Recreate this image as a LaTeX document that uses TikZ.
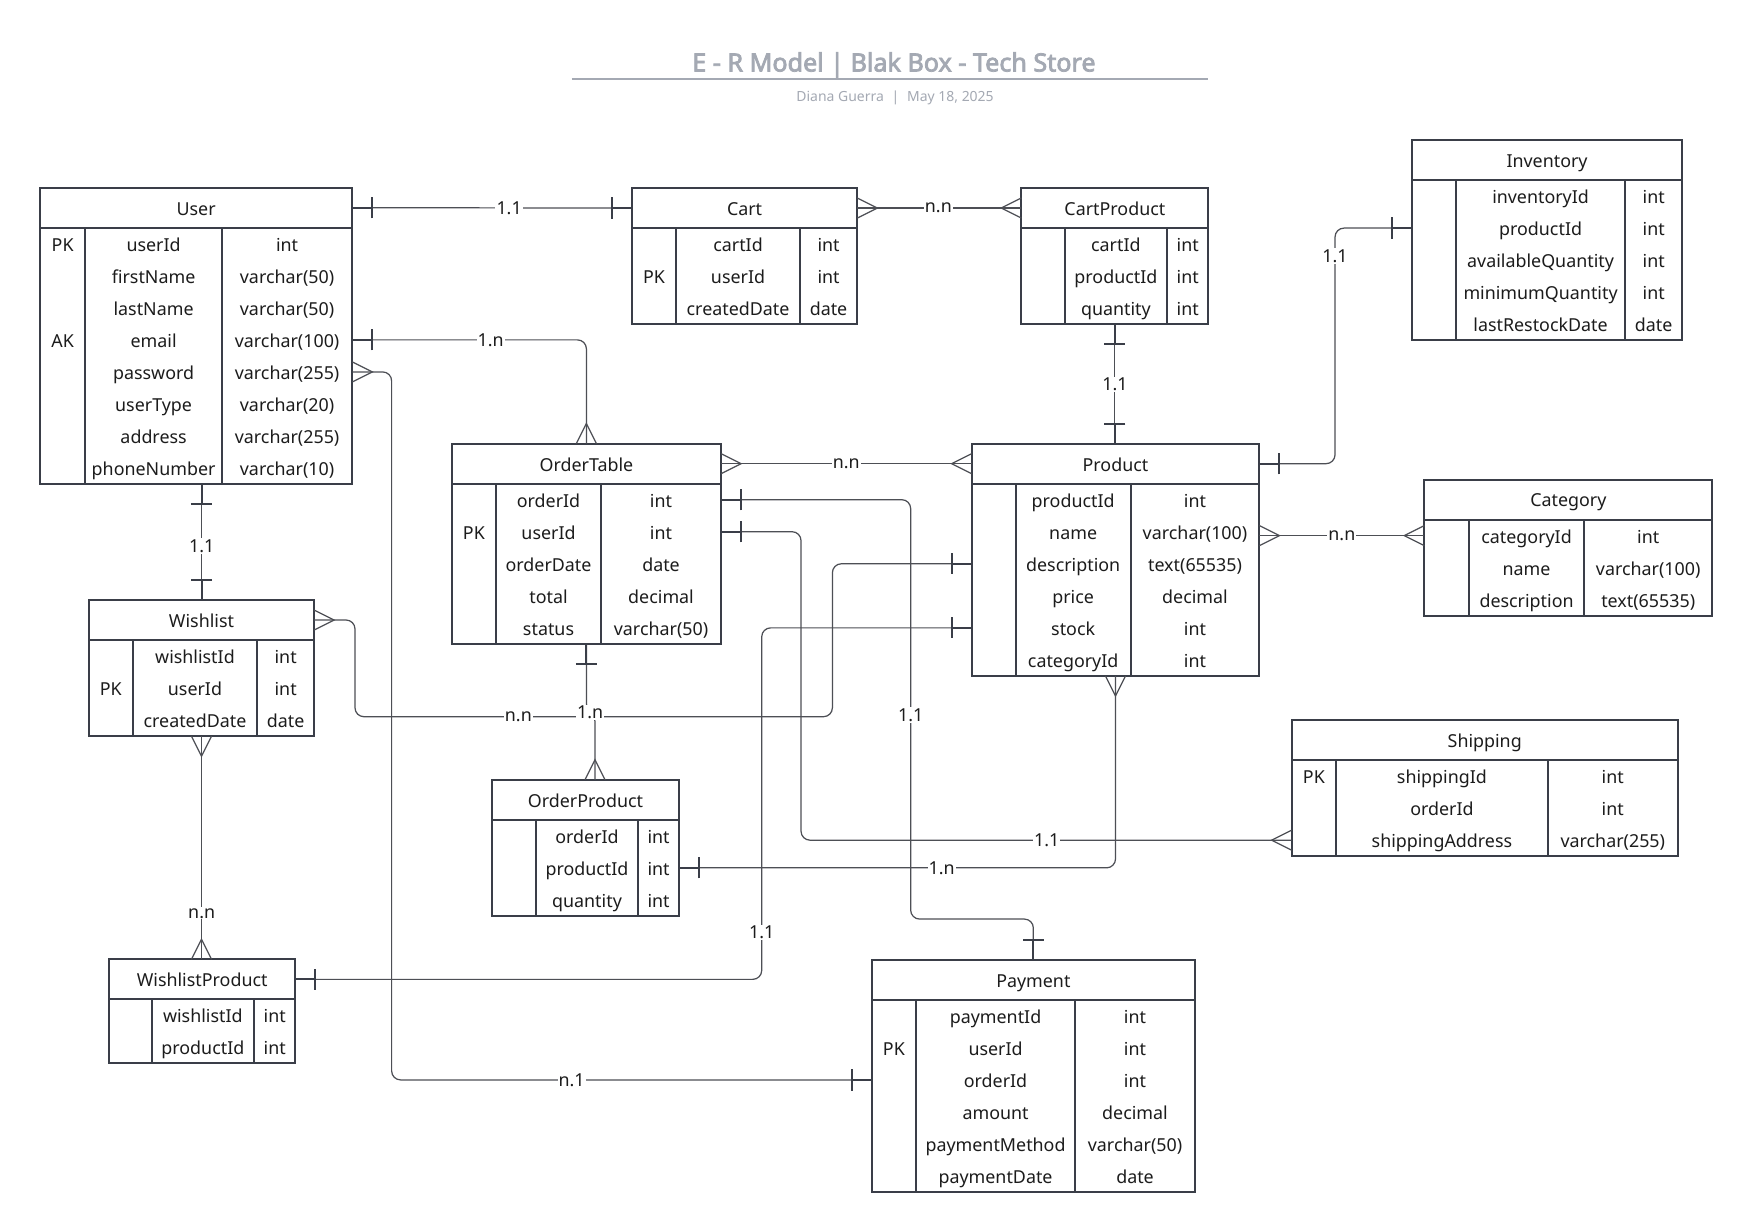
\documentclass[tikz,border=0pt]{standalone}
\usepackage{fontspec}
\setmainfont{Noto Sans}
\newfontfamily\titlefont{Noto Sans}[AutoFakeBold=3]
\usetikzlibrary{calc}
\definecolor{linec}{HTML}{3A3E48}
\definecolor{connc}{HTML}{4D4F55}
\definecolor{txtc}{HTML}{1C1C1C}
\definecolor{titlec}{HTML}{A4A9B3}
\newcommand\rowfont{\fontsize{16}{19}\selectfont}
% table: #1 id, #2..#5 column x, #6 top, #7 title, #8 rows, #9 number of rows
\newcommand\ertable[9]{%
  \pgfmathsetmacro\ertw{#5-#2}%
  \pgfmathsetmacro\erth{35.8+#9*28.7}%
  \node[tblbox, minimum width=\ertw pt, minimum height=\erth pt, anchor=north west] (#1) at (#2,#6) {};
  \node[hdrbox, minimum width=\ertw pt, anchor=north west] (#1-h) at (#2,#6) {#7};
  \draw[tblline] (#2,{#6+35.8}) -- (#5,{#6+35.8});
  \draw[tblline] (#3,{#6+35.8}) -- (#3,{#6+\erth});
  \draw[tblline] (#4,{#6+35.8}) -- (#4,{#6+\erth});
  \draw[tblline] (#2,#6) rectangle (#5,{#6+\erth});
  \foreach \ka/\na/\ta [count=\ii] in {#8} {
    \pgfmathsetmacro\ery{#6+35.8+(\ii-0.5)*28.7}
    \node[rowbox, minimum width=\ertw pt] (#1-r\ii) at ({(#2+#5)/2},\ery) {};
    \node[cell] (#1-k\ii) at ({(#2+#3)/2},\ery) {\ka};
    \node[cell] (#1-n\ii) at ({(#3+#4)/2},\ery) {\na};
    \node[cell] (#1-t\ii) at ({(#4+#5)/2},\ery) {\ta};
  }
}
\newcommand\mbar[2]{\draw[mk] (#1) -- ($(#1)+(#2:18)$) ($(#1)+(#2:18)+(#2+90:9.5)$) -- ($(#1)+(#2:18)+(#2-90:9.5)$);}
\newcommand\mcrow[2]{\draw[crow] ($(#1)+(#2+90:9)$) -- ($(#1)+(#2:18)$) -- ($(#1)+(#2-90:9)$);}
\begin{document}
\begin{tikzpicture}[x=1pt,y=-1pt,
  tblbox/.style={draw=none, fill=white, inner sep=0pt, outer sep=0pt},
  hdrbox/.style={inner sep=0pt, outer sep=0pt, minimum height=35.8pt, text height=14pt, text depth=0.8pt, font=\rowfont, text=txtc},
  tblline/.style={draw=linec, line width=1.8pt},
  rowbox/.style={inner sep=0pt, outer sep=0pt, minimum height=28.7pt},
  cell/.style={inner sep=0pt, text height=14pt, text depth=0.8pt, font=\rowfont, text=txtc},
  conn/.style={draw=connc, line width=1.1pt, rounded corners=8pt},
  mk/.style={draw=linec, line width=1.8pt},
  crow/.style={draw=connc, line width=1.1pt},
  lbl/.style={fill=white, inner sep=1pt, font=\rowfont, text=txtc}]
\useasboundingbox (0,0) rectangle (1568,1103);
\fill[white] (0,0) rectangle (1568,1103);
% title
\node[font=\titlefont\bfseries\fontsize{22.5}{27}\selectfont, text=titlec, anchor=base] (title) at (800.5,64) {E - R Model | Blak Box - Tech Store};
\coordinate (ruleL) at (512,71);
\coordinate (ruleR) at (1082,71);
\draw[titlec, line width=2pt] (ruleL) -- (ruleR);
\node[font=\fontsize{12.5}{15}\selectfont, text=titlec, anchor=base] (sub) at (801.5,90.5) {Diana Guerra\hspace{7pt}|\hspace{7pt}May 18, 2025};

% tables
\ertable{user}{35.7}{76.5}{198.6}{315.5}{168.1}{User}{PK/userId/int,{}/firstName/varchar(50),{}/lastName/varchar(50),AK/email/varchar(100),{}/password/varchar(255),{}/userType/varchar(20),{}/address/varchar(255),{}/phoneNumber/varchar(10)}{8}
\ertable{cart}{565.9}{605.5}{716.3}{767.6}{168.4}{Cart}{{}/cartId/int,PK/userId/int,{}/createdDate/date}{3}
\ertable{cartp}{914.6}{953.5}{1045.0}{1082.1}{168.4}{CartProduct}{{}/cartId/int,{}/productId/int,{}/quantity/int}{3}
\ertable{inv}{1264.2}{1303.9}{1455.2}{1506.5}{125.4}{Inventory}{{}/inventoryId/int,{}/productId/int,{}/availableQuantity/int,{}/minimumQuantity/int,{}/lastRestockDate/date}{5}
\ertable{ord}{404.5}{444.2}{538.2}{645.7}{397.3}{OrderTable}{{}/orderId/int,PK/userId/int,{}/orderDate/date,{}/total/decimal,{}/status/varchar(50)}{5}
\ertable{prod}{870.1}{909.5}{1012.5}{1127.7}{397.3}{Product}{{}/productId/int,{}/name/varchar(100),{}/description/text(65535),{}/price/decimal,{}/stock/int,{}/categoryId/int}{6}
\ertable{cat}{1275.5}{1315.5}{1418.5}{1533.4}{429.5}{Category}{{}/categoryId/int,{}/name/varchar(100),{}/description/text(65535)}{3}
\ertable{wish}{79.7}{118.8}{230.4}{281.2}{537.3}{Wishlist}{{}/wishlistId/int,PK/userId/int,{}/createdDate/date}{3}
\ertable{op}{440.3}{480}{571.3}{608.3}{698.3}{OrderProduct}{{}/orderId/int,{}/productId/int,{}/quantity/int}{3}
\ertable{ship}{1156.7}{1196.4}{1386}{1502.4}{644.8}{Shipping}{PK/shippingId/int,{}/orderId/int,{}/shippingAddress/varchar(255)}{3}
\ertable{wp}{97.6}{135.8}{227.5}{264.5}{859.1}{WishlistProduct}{{}/wishlistId/int,{}/productId/int}{2}
\ertable{pay}{780.6}{820.3}{962.7}{1070.1}{859.5}{Payment}{{}/paymentId/int,PK/userId/int,{}/orderId/int,{}/amount/decimal,{}/paymentMethod/varchar(50),{}/paymentDate/date}{6}

% helper coordinates
\coordinate (p3) at (cartp.south |- prod.north);
\coordinate (c4) at (1195.5,300);
\coordinate (c6) at (350.7,600);
\coordinate (p7) at (wish.north |- user.south);
\coordinate (p8) at (wish.south |- wp.north);
\coordinate (c9a) at (317.9,641.8);
\coordinate (c9b) at (745.4,641.8);
\coordinate (c11) at (815.5,823);
\coordinate (c12) at (717.3,600);
\coordinate (c13) at (532.8,638);
\coordinate (p13) at (c13 |- op.north);
\coordinate (c15) at (682.1,700);
\coordinate (p16) at (cat-r1.west -| prod.east);

% connectors
\draw[conn] (user-h.east) -- (cart-h.west);
\draw[conn] (cart-h.east) -- (cartp-h.west);
\draw[conn] (cartp.south) -- (p3);
\draw[conn] (prod-h.east) -| (c4) |- (inv-r2.west);
\draw[conn] (user-r4.east) -| (ord.north);
\draw[conn] (user-r5.east) -| (c6) |- (pay-r3.west);
\draw[conn] (p7) -- (wish.north);
\draw[conn] (wish.south) -- (p8);
\draw[conn] (wish-h.east) -| (c9a) -- (c9b) |- (prod-r3.west);
\draw[conn] (ord-h.east) -- (prod-h.west);
\draw[conn] (ord-r1.east) -| (c11) -| (pay.north);
\draw[conn] (ord-r2.east) -| (c12) |- (ship-r3.west);
\draw[conn] (ord.south) |- (c13) -- (p13);
\draw[conn] (prod.south) |- (op-r2.east);
\draw[conn] (prod-r5.west) -| (c15) |- (wp-h.east);
\draw[conn] (p16) -- (cat-r1.west);

% end marks
\mbar{user-h.east}{0}   \mbar{cart-h.west}{180}
\mcrow{cart-h.east}{0}  \mcrow{cartp-h.west}{180}
\mbar{cartp.south}{90}  \mbar{p3}{270}
\mbar{prod-h.east}{0}   \mbar{inv-r2.west}{180}
\mbar{user-r4.east}{0}  \mcrow{ord.north}{270}
\mcrow{user-r5.east}{0} \mbar{pay-r3.west}{180}
\mbar{p7}{90}           \mbar{wish.north}{270}
\mcrow{wish.south}{90}  \mcrow{p8}{270}
\mcrow{wish-h.east}{0}  \mbar{prod-r3.west}{180}
\mcrow{ord-h.east}{0}   \mcrow{prod-h.west}{180}
\mbar{ord-r1.east}{0}   \mbar{pay.north}{270}
\mbar{ord-r2.east}{0}   \mcrow{ship-r3.west}{180}
\mbar{ord.south}{90}    \mcrow{p13}{270}
\mcrow{prod.south}{90}  \mbar{op-r2.east}{0}
\mbar{prod-r5.west}{180} \mbar{wp-h.east}{0}
\mcrow{p16}{0}          \mcrow{cat-r1.west}{180}

% labels
\node[lbl] (l1) at (455.9,186.1) {1.1};
\node[lbl] (l2) at (840.3,186.3) {n.n};
\node[lbl] (l3) at (998.4,344) {1.1};
\node[lbl] (l4) at (1195.5,229.3) {1.1};
\node[lbl] (l5) at (439.4,304.3) {1.n};
\node[lbl] (l6) at (511.9,967) {n.1};
\node[lbl] (l7) at (180.6,489) {1.1};
\node[lbl] (l8) at (180.6,817.9) {n.n};
\node[lbl] (l9) at (464.2,641.8) {n.n};
\node[lbl] (l10) at (757.8,415.2) {n.n};
\node[lbl] (l11) at (815.5,640.3) {1.1};
\node[lbl] (l12) at (937.3,752.3) {1.1};
\node[lbl] (l13) at (528.5,638) {1.n};
\node[lbl] (l14) at (843.3,777.1) {1.n};
\node[lbl] (l15) at (682.1,834.9) {1.1};
\node[lbl] (l16) at (1201.6,479.6) {n.n};
\end{tikzpicture}
\end{document}
